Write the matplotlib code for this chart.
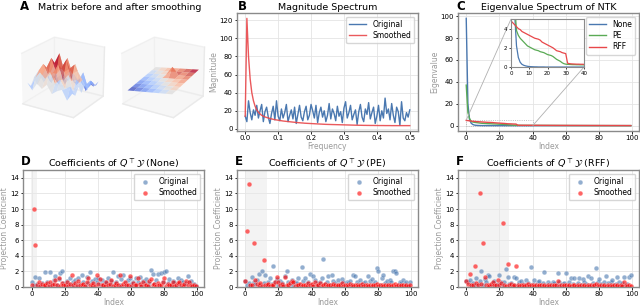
import numpy as np
import matplotlib
matplotlib.use("Agg")
import matplotlib.pyplot as plt
from mpl_toolkits.axes_grid1.inset_locator import mark_inset

plt.rcParams['font.family'] = ['DejaVu Sans']

# ---------------- data ----------------
# panel A: matrix before / after smoothing
noisy = [
    [0.1, -0.4, 0.2, -0.1, 0.3, -0.3, 0.0, 0.2, -0.5, 0.1],
    [-0.3, 0.4, 0.9, 0.5, 1.1, 0.3, 0.7, 0.1, 0.4, -0.2],
    [0.2, 0.8, 1.4, 0.6, 0.9, 1.6, 0.5, 1.0, -0.1, 0.3],
    [-0.5, 0.3, 1.0, 1.8, 0.7, 1.2, 1.9, 0.4, 0.6, -0.3],
    [0.0, 0.6, 0.4, 1.3, 2.1, 0.8, 1.1, 1.5, 0.2, 0.1],
    [-0.6, 0.1, 0.9, 0.5, 1.0, 1.7, 0.6, 0.9, 0.3, -0.4],
    [-0.2, -0.7, 0.3, 0.8, 0.2, 0.6, 1.2, 0.1, -0.3, 0.2],
    [-0.8, -0.3, -0.9, 0.1, -0.4, 0.3, -0.2, 0.5, -0.6, -0.1],
    [-0.4, -1.0, -0.2, -0.7, 0.0, -0.8, -0.3, -1.1, -0.2, -0.5],
    [-0.9, -0.5, -1.2, -0.3, -0.9, -0.4, -1.0, -0.6, -0.8, -0.3],
]
smooth = [
    [-0.5, -0.42, -0.34, -0.26, -0.18, -0.1, -0.02, 0.06],
    [-0.42, -0.34, -0.26, -0.18, -0.1, -0.02, 0.06, 0.14],
    [-0.34, -0.26, -0.18, -0.1, -0.02, 0.06, 0.14, 0.22],
    [-0.26, -0.18, -0.1, -0.02, 0.06, 0.14, 0.22, 0.3],
    [-0.18, -0.1, -0.02, 0.06, 0.14, 0.22, 0.3, 0.38],
    [-0.1, -0.02, 0.06, 0.14, 0.85, 0.3, 0.38, 0.46],
    [-0.02, 0.06, 0.14, 0.22, 0.3, 0.38, 0.46, 0.54],
    [0.06, 0.14, 0.22, 0.3, 0.38, 0.46, 0.54, 0.62],
]

# panel B: magnitude spectrum
orig_mag = [14, 8, 31, 18, 10, 21, 15, 26, 12, 20, 27, 8, 19, 24, 13, 6, 17, 25, 10, 31,
            14, 9, 22, 12, 18, 27, 8, 15, 21, 11, 24, 6, 16, 26, 13, 9, 19, 25, 10, 15,
            27, 20, 12, 26, 7, 18, 24, 13, 20, 8, 15, 28, 11, 22, 17, 9, 25, 14, 19, 7,
            23, 30, 12, 18, 26, 10, 16, 21, 5, 19, 27, 13, 8, 22, 16, 29, 11, 18, 24, 6,
            14, 26, 9, 20, 12, 34, 17, 22, 10, 28, 15, 7, 24, 19, 4, 30, 12, 9, 18, 13, 21]
smooth_mag = [14, 122, 80, 55, 40, 31, 25, 21, 18.5, 16.5, 15, 14, 13.2, 12.6, 12, 11.5, 11, 10.6, 10.2, 9.9,
              9.6, 9.3, 9.0, 8.7, 8.5, 8.3, 8.1, 7.9, 7.7, 7.5, 7.3, 7.1, 6.9, 6.8, 6.6, 6.5, 6.3, 6.2, 6.1, 6.0,
              5.9, 5.8, 5.7, 5.6, 5.5, 5.4, 5.3, 5.2, 5.1, 5.0, 4.95, 4.9, 4.85, 4.8, 4.75, 4.7, 4.65, 4.6, 4.55, 4.5,
              4.45, 4.4, 4.35, 4.3, 4.25, 4.2, 4.15, 4.1, 4.05, 4.0, 4.0, 3.95, 3.9, 3.9, 3.85, 3.85, 3.8, 3.8, 3.8, 3.75,
              3.75, 3.7, 3.7, 3.7, 3.7, 3.65, 3.65, 3.65, 3.65, 3.6, 3.6, 3.6, 3.6, 3.6, 3.6, 3.6, 3.6, 3.6, 3.6, 3.6, 3.6]

# panel C: NTK eigenvalues
eig_none = [98, 20, 5.5, 2.2, 1.0, 0.5, 0.28, 0.18, 0.12, 0.08, 0.05, 0.04, 0.03, 0.02, 0.02, 0.01, 0.01, 0.01, 0.01, 0.0,
            0.0, 0.0, 0.0, 0.0, 0.0, 0.0, 0.0, 0.0, 0.0, 0.0, 0.0, 0.0, 0.0, 0.0, 0.0, 0.0, 0.0, 0.0, 0.0, 0.0,
            0.0, 0.0, 0.0, 0.0, 0.0, 0.0, 0.0, 0.0, 0.0, 0.0, 0.0, 0.0, 0.0, 0.0, 0.0, 0.0, 0.0, 0.0, 0.0, 0.0,
            0.0, 0.0, 0.0, 0.0, 0.0, 0.0, 0.0, 0.0, 0.0, 0.0, 0.0, 0.0, 0.0, 0.0, 0.0, 0.0, 0.0, 0.0, 0.0, 0.0,
            0.0, 0.0, 0.0, 0.0, 0.0, 0.0, 0.0, 0.0, 0.0, 0.0, 0.0, 0.0, 0.0, 0.0, 0.0, 0.0, 0.0, 0.0, 0.0, 0.0]
eig_pe = [37, 12, 6.5, 3.8, 3.3, 3.0, 2.8, 2.6, 2.4, 2.2, 2.1, 2.0, 1.9, 1.8, 1.75, 1.7, 1.6, 1.55, 1.5, 1.4,
          1.3, 1.25, 1.2, 1.1, 0.95, 0.8, 0.7, 0.6, 0.45, 0.35, 0.3, 0.28, 0.27, 0.26, 0.25, 0.25, 0.24, 0.24, 0.23, 0.23,
          0.22, 0.22, 0.21, 0.21, 0.2, 0.2, 0.19, 0.19, 0.18, 0.18, 0.17, 0.17, 0.16, 0.16, 0.15, 0.15, 0.14, 0.14, 0.13, 0.13,
          0.12, 0.12, 0.11, 0.11, 0.1, 0.1, 0.1, 0.09, 0.09, 0.09, 0.08, 0.08, 0.08, 0.07, 0.07, 0.07, 0.06, 0.06, 0.06, 0.05,
          0.05, 0.05, 0.05, 0.04, 0.04, 0.04, 0.04, 0.03, 0.03, 0.03, 0.03, 0.02, 0.02, 0.02, 0.02, 0.01, 0.01, 0.01, 0.01, 0.0]
eig_rff = [4.8, 4.6, 4.4, 4.2, 4.0, 3.9, 3.7, 3.6, 3.5, 3.4, 3.3, 3.2, 3.1, 3.0, 2.95, 2.9, 2.8, 2.6, 2.5, 2.4,
           2.3, 2.2, 2.1, 2.0, 1.85, 1.7, 1.65, 1.6, 1.5, 1.45, 1.4, 0.4, 0.35, 0.33, 0.32, 0.31, 0.3, 0.3, 0.29, 0.29,
           0.28, 0.28, 0.27, 0.27, 0.26, 0.26, 0.25, 0.25, 0.24, 0.24, 0.23, 0.23, 0.22, 0.22, 0.21, 0.21, 0.2, 0.2, 0.2, 0.19,
           0.19, 0.19, 0.18, 0.18, 0.18, 0.17, 0.17, 0.17, 0.16, 0.16, 0.16, 0.15, 0.15, 0.15, 0.14, 0.14, 0.14, 0.13, 0.13, 0.13,
           0.12, 0.12, 0.12, 0.11, 0.11, 0.11, 0.1, 0.1, 0.1, 0.1, 0.09, 0.09, 0.09, 0.08, 0.08, 0.08, 0.07, 0.07, 0.07, 0.06]

# panels D-F: projection coefficients
none_orig = [0.6, 0.2, 1.3, 0.4, 1.1, 0.3, 0.5, 0.1, 1.9, 0.7, 0.2, 1.9, 0.4, 0.9, 1.4, 0.3, 1.0, 1.8, 2.0, 0.5,
             0.2, 0.8, 0.4, 1.2, 0.3, 0.6, 0.9, 0.2, 1.1, 0.4, 1.6, 0.7, 0.3, 1.3, 0.5, 1.9, 0.8, 0.2, 1.0, 0.6,
             1.2, 0.4, 0.9, 0.3, 0.7, 0.5, 1.1, 0.2, 0.8, 1.9, 0.4, 0.6, 1.4, 0.3, 1.0, 1.6, 0.5, 0.2, 0.9, 1.2,
             0.4, 0.7, 0.3, 1.1, 0.6, 1.3, 0.2, 0.8, 0.5, 1.0, 0.3, 0.6, 2.2, 1.7, 0.4, 0.9, 1.7, 0.2, 1.8, 0.7,
             1.9, 2.1, 0.5, 1.0, 0.3, 0.8, 0.6, 0.2, 1.1, 0.4, 0.9, 0.7, 0.3, 0.5, 1.4, 0.6, 0.8, 0.2, 0.4, 0.1]
none_smooth = [0.3, 10.0, 5.4, 0.2, 0.6, 0.1, 0.4, 0.2, 0.3, 0.5, 0.1, 0.7, 0.2, 0.4, 0.9, 0.3, 1.2, 0.1, 0.5, 0.2,
               0.3, 0.6, 0.1, 0.4, 1.6, 0.2, 0.5, 0.1, 0.8, 0.3, 0.2, 0.4, 0.1, 0.6, 1.2, 0.2, 0.3, 0.5, 0.1, 1.6,
               0.4, 1.0, 0.2, 0.3, 0.1, 0.6, 0.2, 0.4, 0.9, 0.1, 0.3, 0.5, 0.2, 1.5, 0.1, 0.4, 0.7, 0.2, 0.3, 1.4,
               0.1, 0.5, 0.2, 0.3, 1.2, 0.4, 0.1, 0.6, 0.2, 0.3, 0.1, 0.8, 1.0, 0.2, 0.4, 0.1, 0.5, 0.3, 0.2, 0.6,
               1.1, 0.1, 0.4, 0.2, 0.3, 0.7, 0.1, 0.2, 0.5, 0.7, 0.3, 0.1, 0.4, 0.8, 0.2, 0.6, 0.3, 0.1, 0.2, 0.1]
pe_orig = [0.8, 0.3, 0.5, 0.2, 1.3, 0.6, 0.4, 0.9, 1.7, 0.3, 2.0, 0.5, 1.6, 0.2, 0.7, 1.1, 0.4, 2.7, 0.6, 1.0,
           0.3, 0.8, 0.5, 0.2, 1.4, 2.1, 0.6, 0.4, 0.9, 0.3, 0.7, 0.5, 1.2, 0.2, 2.6, 0.8, 1.1, 0.4, 0.6, 1.7,
           0.3, 1.4, 0.9, 0.5, 0.2, 0.7, 1.2, 3.6, 0.4, 0.6, 1.4, 0.3, 1.6, 0.8, 0.5, 0.2, 0.9, 0.4, 1.0, 0.6,
           0.3, 0.7, 0.5, 0.8, 0.2, 1.5, 1.4, 0.6, 0.4, 0.9, 0.3, 0.5, 0.7, 0.2, 1.4, 0.8, 1.0, 0.4, 0.6, 2.5,
           2.1, 0.3, 1.2, 1.6, 0.5, 0.8, 0.4, 0.9, 0.6, 2.0, 2.1, 1.8, 0.3, 0.7, 0.5, 0.9, 0.4, 0.6, 0.2, 0.7]
pe_smooth = [0.8, 7.2, 13.2, 0.2, 0.3, 5.7, 0.9, 0.4, 0.2, 0.5, 0.1, 3.4, 0.3, 0.2, 0.4, 0.1, 0.3, 0.2, 0.6, 1.3,
             0.7, 0.2, 0.4, 0.1, 1.3, 0.3, 0.2, 0.5, 0.8, 0.7, 0.1, 0.3, 0.2, 0.4, 0.1, 0.2, 0.3, 0.1, 0.5, 0.2,
             0.4, 0.1, 0.6, 0.2, 0.3, 0.5, 0.1, 0.2, 0.4, 0.1, 0.3, 0.2, 0.1, 0.4, 0.2, 0.1, 0.3, 0.2, 0.5, 0.1,
             0.2, 0.3, 0.1, 0.4, 0.2, 0.1, 0.2, 0.3, 0.1, 0.2, 0.4, 0.1, 0.2, 0.3, 0.1, 0.2, 0.1, 0.3, 0.2, 0.4,
             0.1, 0.2, 0.3, 0.1, 0.2, 0.1, 0.3, 0.2, 0.1, 0.2, 0.4, 0.1, 0.2, 0.1, 0.3, 0.2, 0.1, 0.2, 0.1, 0.2]
rff_orig = [0.8, 0.6, 0.9, 0.3, 0.5, 0.2, 1.1, 0.4, 0.8, 2.0, 0.3, 1.0, 0.6, 1.6, 1.4, 0.2, 0.5, 0.8, 0.3, 0.4,
            1.5, 0.6, 0.2, 0.7, 2.3, 1.3, 0.4, 0.5, 0.3, 1.3, 1.2, 0.2, 0.6, 0.8, 0.4, 0.3, 0.9, 0.5, 0.2, 2.6,
            0.4, 0.9, 0.3, 0.6, 0.8, 0.2, 0.5, 1.9, 0.3, 0.6, 0.4, 0.2, 0.7, 0.5, 0.3, 1.8, 0.6, 0.2, 0.4, 0.5,
            1.8, 0.3, 0.6, 1.2, 0.4, 1.2, 0.2, 0.5, 1.1, 0.3, 1.0, 0.6, 0.4, 1.4, 0.2, 1.1, 0.5, 0.3, 2.4, 0.6,
            1.0, 0.4, 0.2, 0.7, 1.4, 0.5, 0.3, 0.6, 0.9, 0.2, 0.4, 1.3, 0.6, 0.3, 0.5, 1.3, 0.2, 0.4, 1.3, 1.6]
rff_smooth = [0.8, 0.4, 1.7, 0.3, 0.2, 2.7, 0.5, 0.2, 12.1, 0.4, 5.6, 1.3, 0.2, 0.3, 0.1, 0.4, 0.7, 0.2, 0.3, 0.9,
              0.2, 0.5, 8.2, 0.3, 0.1, 2.9, 0.2, 0.4, 0.1, 0.3, 2.7, 0.2, 0.1, 0.3, 0.2, 0.1, 0.2, 0.4, 0.1, 0.2,
              0.3, 0.1, 0.2, 0.1, 0.3, 0.2, 0.1, 0.2, 0.1, 0.3, 0.1, 0.2, 0.1, 0.2, 0.3, 0.8, 0.1, 0.2, 0.1, 0.3,
              0.2, 0.1, 0.2, 0.1, 0.2, 0.3, 0.1, 0.2, 0.1, 0.2, 0.1, 0.3, 0.1, 0.2, 0.1, 0.2, 0.1, 0.3, 0.4, 0.2,
              0.1, 0.2, 0.1, 0.3, 0.1, 0.2, 0.1, 0.2, 0.1, 0.3, 0.1, 0.2, 0.1, 0.2, 0.1, 0.6, 0.2, 0.1, 0.2, 0.1]

coef_panels = [("D", "None", none_orig, none_smooth, (-0.5, 3)),
               ("E", "PE", pe_orig, pe_smooth, (0, 13)),
               ("F", "RFF", rff_orig, rff_smooth, (0, 25.5))]

BLUE = '#4a78b0'
RED = '#e8474a'
GREEN = '#5aaa55'
W, H = 640, 308


def rect(x0, y0, x1, y1):
    # pixel box (top-left origin) -> figure fraction
    return [x0 / W, 1 - y1 / H, (x1 - x0) / W, (y1 - y0) / H]


def style(ax):
    ax.grid(True, color='#e4e4e4', lw=0.6)
    ax.set_axisbelow(True)
    for s in ax.spines.values():
        s.set_color('#8a8a8a')
        s.set_linewidth(1.0)
    ax.tick_params(labelsize=5, length=1.8, width=0.6, pad=1.2)


def labels(ax, xl, yl):
    ax.set_xlabel(xl, fontsize=5.5, color='#9a9a9a', labelpad=0.3)
    ax.set_ylabel(yl, fontsize=5.5, color='#9a9a9a', labelpad=0.5)


fig = plt.figure(figsize=(6.4, 3.08), dpi=100)

# ---------------- A ----------------
fig.text(20 / W, 1 - 10 / H, "A", fontsize=8.5, fontweight='bold')
fig.text(38 / W, 1 - 10 / H, "Matrix before and after smoothing", fontsize=6.8)
for mat, box in [(noisy, rect(6, 22, 118, 132)), (smooth, rect(106, 22, 218, 132))]:
    Z = np.array(mat)
    X, Y = np.meshgrid(np.arange(Z.shape[1]), np.arange(Z.shape[0]))
    ax3 = fig.add_axes(box, projection='3d')
    ax3.plot_surface(X, Y, Z, cmap='coolwarm', alpha=0.75, linewidth=0, antialiased=True)
    ax3.set_zlim(-1.5, 2.3)
    ax3.view_init(elev=22, azim=-58)
    ax3.set_box_aspect((1, 1, 0.9), zoom=0.88)
    ax3.set_xticks([])
    ax3.set_yticks([])
    ax3.set_zticks([])
    ax3.grid(False)
    for axis in (ax3.xaxis, ax3.yaxis, ax3.zaxis):
        axis.set_pane_color((0.95, 0.95, 0.95, 0.6))
        axis.pane.set_edgecolor('#eaeaea')
        axis.line.set_color('#eaeaea')
    ax3.patch.set_alpha(0)

# ---------------- B ----------------
axb = fig.add_axes(rect(237, 13, 418, 131))
freqs = np.linspace(0, 0.5, len(orig_mag))
axb.plot(freqs, orig_mag, color=BLUE, lw=1.0, label='Original')
axb.plot(freqs, smooth_mag, color=RED, lw=1.0, alpha=0.9, label='Smoothed')
axb.set_yticks([0, 20, 40, 60, 80, 100, 120])
style(axb)
axb.set_title("Magnitude Spectrum", fontsize=6.8, pad=2)
labels(axb, "Frequency", "Magnitude")
axb.legend(fontsize=5.5, loc='upper right', edgecolor='#cccccc', handlelength=2.2,
           borderpad=0.4, labelspacing=0.3)
fig.text(238 / W, 1 - 10 / H, "B", fontsize=8.5, fontweight='bold')

# ---------------- C ----------------
axc = fig.add_axes(rect(458, 13, 639, 131))
idx = np.arange(len(eig_none))
for vals, c, name in [(eig_none, BLUE, 'None'), (eig_pe, GREEN, 'PE'), (eig_rff, RED, 'RFF')]:
    axc.plot(idx, vals, color=c, lw=1.0, label=name)
style(axc)
axc.set_title("Eigenvalue Spectrum of NTK", fontsize=6.8, pad=2)
labels(axc, "Index", "Eigenvalue")
axc.legend(fontsize=5.5, loc='upper right', edgecolor='#cccccc', handlelength=2.2,
           borderpad=0.4, labelspacing=0.3)
axin = axc.inset_axes([0.293, 0.542, 0.403, 0.407])
for vals, c in [(eig_none, BLUE), (eig_pe, GREEN), (eig_rff, RED)]:
    axin.plot(idx, vals, color=c, lw=0.9)
axin.set_xlim(0, 40)
axin.set_ylim(0, 5)
axin.set_xticks([0, 10, 20, 30, 40])
axin.set_yticks([0, 2, 4])
axin.grid(True, color='#e4e4e4', lw=0.5)
for s in axin.spines.values():
    s.set_color('#8a8a8a')
    s.set_linewidth(0.8)
axin.tick_params(labelsize=4, length=1.5, width=0.5, pad=1)
pp, p1, p2 = mark_inset(axc, axin, loc1=2, loc2=4, fc='none', ec='#b0b0b0', lw=0.6)
pp.set_linestyle(':')
fig.text(456 / W, 1 - 10 / H, "C", fontsize=8.5, fontweight='bold')

# ---------------- D, E, F ----------------
lefts = [23, 237, 458]
for (letter, name, orig, smo, span), x0 in zip(coef_panels, lefts):
    ax = fig.add_axes(rect(x0, 170, x0 + 181, 287))
    k = np.arange(len(orig))
    ax.axvspan(span[0], span[1], color='#e8e8e8', alpha=0.5, lw=0)
    ax.scatter(k, orig, s=12, color=BLUE, alpha=0.6, edgecolors='white', linewidths=0.3, label='Original')
    ax.scatter(k, smo, s=12, color='red', alpha=0.6, edgecolors='white', linewidths=0.3, label='Smoothed')
    ax.set_ylim(0, 15)
    ax.set_yticks(range(0, 15, 2))
    ax.set_xticks(range(0, 101, 20))
    style(ax)
    ax.set_title(r"Coefficients of $Q^{\top}\mathcal{Y}$ (" + name + ")", fontsize=6.8, pad=2)
    labels(ax, "Index", "Projection Coefficient")
    ax.legend(fontsize=5.5, loc='upper right', edgecolor='#cccccc', handletextpad=0.8,
              borderpad=0.4, labelspacing=0.3, scatterpoints=1)
    fig.text((x0 - 2) / W, 1 - 165 / H, letter, fontsize=8.5, fontweight='bold')

fig.savefig("out.png", dpi=100)
